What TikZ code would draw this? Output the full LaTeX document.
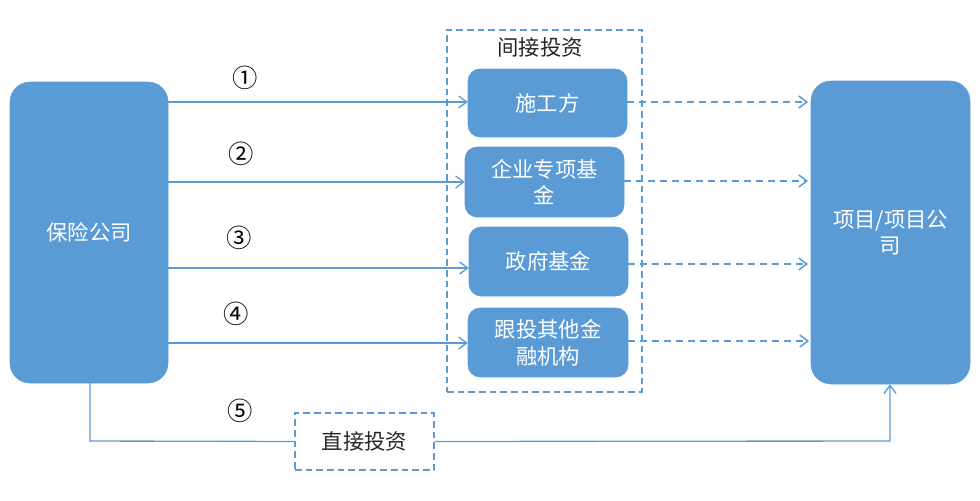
\documentclass[tikz,border=0pt]{standalone}
\usepackage{fontspec}
\newfontfamily\cjk{Noto Sans CJK SC}
\usetikzlibrary{arrows.meta}
\definecolor{oblue}{HTML}{5B9BD5}
\definecolor{lblue}{HTML}{5B9BD5}
\tikzset{
  bluebox/.style={draw=oblue, fill=oblue, rounded corners=#1, text=white, font=\cjk\fontsize{16}{20}\selectfont, align=center, inner sep=0pt},
  bluebox/.default=9pt,
  solidarrow/.style={draw=lblue, line width=1pt, -{Straight Barb[length=6pt,width=9pt]}},
  dasharrow/.style={draw=lblue, line width=1.1pt, dash pattern=on 5pt off 4pt, -{Straight Barb[length=6pt,width=9pt]}},
  dashgroup/.style={draw=lblue, line width=1.4pt, dash pattern=on 5pt off 3pt},
  numlabel/.style={font=\cjk\fontsize{19}{22}\selectfont, text=black},
  grouplabel/.style={font=\cjk\fontsize{16}{20}\selectfont, text=black!85}
}
\begin{document}
\begin{tikzpicture}[x=0.75pt, y=-0.75pt]
\useasboundingbox (0,0) rectangle (980,500);
% dashed group
\node[dashgroup, minimum width=195*0.75pt, minimum height=362*0.75pt, inner sep=0pt] (grp) at (544.5,211) {};
\node[grouplabel] (glab) at (540,47) {间接投资};
% left & right boxes
\node[bluebox=15pt, minimum width=158*0.75pt, minimum height=301*0.75pt] (ins) at (89,232.5) {保险公司};
\node[bluebox=15pt, minimum width=159*0.75pt, minimum height=303*0.75pt] (proj) at (890.5,232.5) {项目/项目公\\司};
% inner boxes
\node[bluebox, minimum width=159*0.75pt, minimum height=68*0.75pt] (b1) at (547.5,103) {施工方};
\node[bluebox, minimum width=159*0.75pt, minimum height=70*0.75pt] (b2) at (544.5,182) {企业专项基\\金};
\node[bluebox, minimum width=159*0.75pt, minimum height=69*0.75pt] (b3) at (548.5,261.5) {政府基金};
\node[bluebox, minimum width=160*0.75pt, minimum height=69*0.75pt] (b4) at (548,342.5) {跟投其他金\\融机构};
% direct investment
\node[dashgroup, minimum width=139*0.75pt, minimum height=57*0.75pt, inner sep=0pt, font=\cjk\fontsize{16}{20}\selectfont, text=black!85] (direct) at (364.5,441.5) {直接投资};
% numbers
\node[numlabel] (n1) at (245,78) {①};
\node[numlabel] (n2) at (241,154) {②};
\node[numlabel] (n3) at (239,238) {③};
\node[numlabel] (n4) at (236,314) {④};
\node[numlabel] (n5) at (240,411) {⑤};
% coordinates
\coordinate (s1) at (ins.east |- 0,102);
\coordinate (s2) at (ins.east |- 0,182);
\coordinate (s3) at (ins.east |- 0,268);
\coordinate (s4) at (ins.east |- 0,343);
\draw[solidarrow] (s1) -- (b1.west |- s1);
\draw[solidarrow] (s2) -- (b2.west |- s2);
\draw[solidarrow] (s3) -- (b3.west |- s3);
\draw[solidarrow] (s4) -- (b4.west |- s4);
\coordinate (e1) at (808,102);
\coordinate (e2) at (808,181);
\coordinate (e3) at (808,264);
\coordinate (e4) at (809,341);
\draw[dasharrow] (b1.east |- e1) -- (e1);
\draw[dasharrow] (b2.east |- e2) -- (e2);
\draw[dasharrow] (b3.east |- e3) -- (e3);
\draw[dasharrow] (b4.east |- e4) -- (e4);
% direct path
\coordinate (d0) at (90,383);
\coordinate (d1) at (90,441);
\coordinate (d2) at (890,441);
\draw[draw=lblue, line width=1pt] (d0) -- (d1) -- (direct.west);
\draw[solidarrow] (direct.east) -- (d2) -- (proj.south -| d2);
\end{tikzpicture}
\end{document}
